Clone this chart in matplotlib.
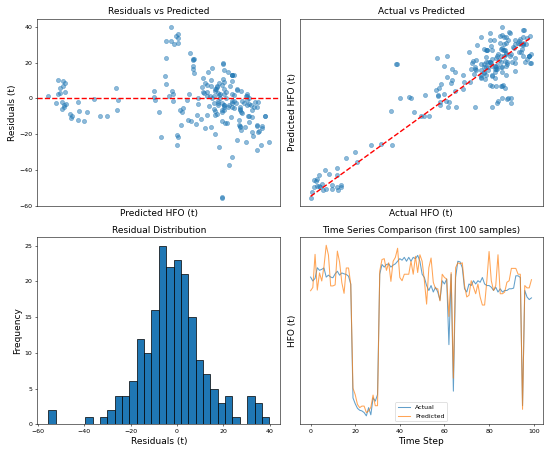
import numpy as np
import matplotlib
matplotlib.use("Agg")
import matplotlib.pyplot as plt

# --- test set: actual vs model prediction (HFO, tonnes) ---
# first 100 samples (shown in the time series panel)
actual_first = [118.8, 115.8, 117.8, 126.0, 124.0, 124.8, 125.8, 118.8, 120.3, 118.8,
                118.3, 121.3, 123.3, 120.3, 122.0, 121.3, 120.8, 119.5, 113.3, 25.8,
                21.3, 17.8, 16.3, 15.8, 14.5, 12.0, 18.3, 12.8, 25.8, 23.3,
                28.3, 121.0, 128.5, 126.5, 128.5, 129.0, 126.5, 128.0, 129.0, 131.0,
                133.0, 131.8, 134.0, 131.0, 134.0, 131.0, 134.0, 133.0, 135.5, 131.0,
                121.0, 118.5, 112.3, 108.5, 112.3, 107.3, 111.0, 107.3, 101.0, 116.0,
                113.5, 117.3, 66.8, 121.0, 31.0, 118.5, 131.0, 130.5, 126.0, 109.8,
                107.3, 113.5, 112.3, 116.0, 113.5, 116.0, 114.8, 118.5, 113.5, 112.3,
                112.3, 111.0, 108.5, 111.0, 107.3, 109.8, 107.3, 108.5, 108.5, 109.8,
                109.8, 110.3, 119.8, 119.8, 118.5, 19.8, 108.5, 103.5, 101.5, 102.8]
pred_first = [108.3, 110.8, 136.3, 108.8, 122.0, 115.8, 127.0, 143.3, 135.8, 112.0,
              112.0, 112.8, 138.8, 130.3, 114.5, 106.3, 125.8, 125.8, 113.3, 33.3,
              28.3, 20.8, 18.3, 19.5, 19.5, 14.5, 15.8, 18.5, 28.0, 19.8,
              19.8, 123.5, 132.3, 133.0, 124.0, 129.8, 115.5, 131.0, 134.0, 141.0,
              118.5, 116.0, 121.0, 121.0, 121.0, 131.0, 121.0, 134.8, 122.3, 136.0,
              131.0, 116.0, 98.0, 126.0, 133.5, 114.8, 109.8, 109.8, 100.5, 121.0,
              118.5, 117.3, 88.5, 122.3, 41.0, 126.0, 129.8, 129.0, 129.8, 112.3,
              103.5, 104.8, 116.0, 111.0, 106.0, 113.5, 103.5, 97.3, 97.3, 116.0,
              138.5, 116.0, 108.5, 112.3, 136.0, 106.0, 106.0, 107.3, 114.8, 116.0,
              125.5, 125.5, 125.5, 121.0, 121.0, 17.0, 112.3, 110.5, 110.5, 116.8]

# remaining test samples
actual_rest = [59.1, 59.6, 82.2, 87.8, 86.0, 61.7, 104.8, 56.3, 100.6,
               67.5, 90.7, 114.2, 118.7,
               84.5, 88.1, 92.4, 122.9, 112.5, 121.0, 75.4, 110.5,
               16.0, 19.3, 81.8, 83.5, 104.2, 113.2, 90.5, 118.0, 102.2,
               14.1, 12.9, 14.6, 36.0, 131.2, 97.0, 103.5, 109.8, 118.8, 90.3, 122.5,
               45.2, 69.2, 83.0, 83.1, 86.2, 104.0, 116.5,
               134.6, 97.5, 103.0, 112.5, 115.5, 125.2,
               11.1, 37.3, 50.8, 74.7, 73.5, 83.8, 92.6, 83.8,
               78.0, 88.8, 87.6, 97.1, 107.0, 114.7, 115.0, 120.5, 123.5, 130.0, 132.2, 115.5,
               23.0, 25.7, 56.8, 88.7, 109.5, 115.2, 121.5, 126.3, 129.5,
               26.3, 28.4,
               93.1,
               135.5, 134.4, 115.4,
               103.8, 119.1, 119.7,
               120.8,
               113.1, 116.1, 116.6, 119.0,
               121.6, 124.2, 122.2,
               123.8]
pred_rest = [114.6, 114.8, 119.2, 120.6, 113.2, 87.8, 129.0, 77.9, 123.6,
             87.8, 110.6, 133.0, 137.0,
             99.0, 104.6, 108.2, 139.2, 128.5, 136.0, 90.2, 125.2,
             28.0, 31.8, 94.1, 96.0, 118.0, 125.2, 102.0, 131.0, 115.0,
             22.8, 23.6, 24.4, 45.6, 141.0, 106.0, 112.0, 120.0, 127.0, 99.5, 133.0,
             51.6, 76.8, 89.3, 90.5, 91.3, 110.0, 122.0,
             136.6, 100.5, 107.0, 115.0, 119.0, 128.0,
             10.0, 37.8, 51.9, 74.0, 74.2, 82.7, 93.7, 85.2,
             74.0, 84.8, 85.4, 94.9, 104.0, 110.5, 113.0, 117.0, 121.0, 126.0, 130.0, 112.5,
             17.2, 18.8, 51.0, 80.9, 103.0, 108.0, 116.0, 119.5, 124.0,
             15.8, 18.6,
             80.6,
             115.6, 115.2, 97.5,
             81.0, 97.0, 97.8,
             95.6,
             81.2, 83.9, 86.0, 88.2,
             86.8, 88.0, 88.3,
             84.0]

y_test = np.array(actual_first + actual_rest)
y_pred = np.array(pred_first + pred_rest)
residuals = y_test - y_pred
n_show = 100

plt.rcParams['xtick.labelsize'] = 9
plt.rcParams['ytick.labelsize'] = 9
plt.rcParams['legend.fontsize'] = 9

fig, axes = plt.subplots(2, 2, figsize=(11, 9.1))

# 1. residuals vs predicted
ax = axes[0, 0]
ax.scatter(y_pred, residuals, alpha=0.5)
ax.axhline(y=0, color='r', linestyle='--', lw=2)
ax.set_xlabel('Predicted HFO (t)', fontsize=13)
ax.set_ylabel('Residuals (t)', fontsize=13)
ax.set_title('Residuals vs Predicted', fontsize=13)
ax.set_xticks([])

# 2. actual vs predicted
ax = axes[0, 1]
ax.scatter(y_test, y_pred, alpha=0.5)
ax.plot([y_test.min(), y_test.max()], [y_test.min(), y_test.max()], 'r--', lw=2)
ax.set_xlabel('Actual HFO (t)', fontsize=13)
ax.set_ylabel('Predicted HFO (t)', fontsize=13)
ax.set_title('Actual vs Predicted', fontsize=13)
ax.set_xticks([])
ax.set_yticks([])

# 3. residual histogram
ax = axes[1, 0]
ax.hist(residuals, bins=30, edgecolor='black')
ax.set_xlabel('Residuals (t)', fontsize=13)
ax.set_ylabel('Frequency', fontsize=13)
ax.set_title('Residual Distribution', fontsize=13)

# 4. time series of first samples
ax = axes[1, 1]
ax.plot(range(n_show), y_test[:n_show], label='Actual', alpha=0.7)
ax.plot(range(n_show), y_pred[:n_show], label='Predicted', alpha=0.7)
ax.set_xlabel('Time Step', fontsize=13)
ax.set_ylabel('HFO (t)', fontsize=13)
ax.set_title('Time Series Comparison (first 100 samples)', fontsize=13)
ax.set_yticks([])
ax.legend(loc='lower center')

plt.tight_layout()
plt.savefig('out.png', dpi=50)
